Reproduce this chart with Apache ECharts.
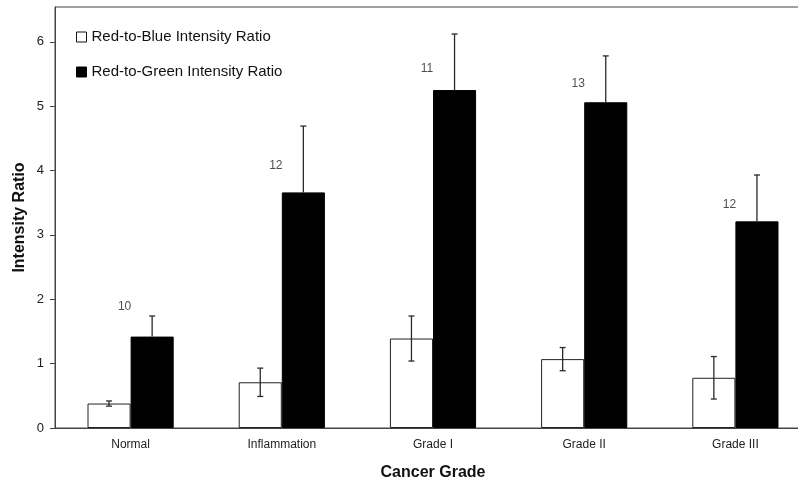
<!DOCTYPE html>
<html>
<head>
<meta charset="utf-8">
<script src="https://cdn.jsdelivr.net/npm/echarts@6/dist/echarts.min.js"></script>
<style>html,body{margin:0;padding:0;background:#fff}#c{width:798px;height:481px}</style>
</head>
<body>
<div id="c"></div>
<script>
var categories = ['Normal', 'Inflammation', 'Grade I', 'Grade II', 'Grade III'];
var redBlue = [0.38, 0.71, 1.39, 1.07, 0.78];
var redBlueErr = [0.04, 0.22, 0.35, 0.18, 0.33];
var redGreen = [1.42, 3.66, 5.25, 5.06, 3.21];
var redGreenErr = [0.32, 1.03, 0.87, 0.72, 0.72];
var sampleN = [10, 12, 11, 13, 12];
var sampleLabelY = [1.88, 4.07, 5.58, 5.35, 3.47];
var yTicks = [0, 1, 2, 3, 4, 5, 6];

var FONT = 'Liberation Sans, Arial, sans-serif';
var GAP = 0.43;

function errRender(side, upperOnly) {
  return function (params, api) {
    var idx = api.value(0);
    var v = api.value(1);
    var e = api.value(2);
    var band = api.size([1, 0])[0];
    var w = band * (1 - GAP) / 2;
    var c = api.coord([idx, v]);
    var x = c[0] + side * w / 2;
    var top = api.coord([idx, v + e])[1];
    var bot = upperOnly ? c[1] : api.coord([idx, v - e])[1];
    var cap = 3;
    var st = { stroke: '#2a2a2a', lineWidth: 1.3 };
    var kids = [
      { type: 'line', shape: { x1: x, y1: top, x2: x, y2: bot }, style: st },
      { type: 'line', shape: { x1: x - cap, y1: top, x2: x + cap, y2: top }, style: st }
    ];
    if (!upperOnly) {
      kids.push({ type: 'line', shape: { x1: x - cap, y1: bot, x2: x + cap, y2: bot }, style: st });
    }
    return { type: 'group', children: kids };
  };
}

var chart = echarts.init(document.getElementById('c'), null, { renderer: 'canvas' });
chart.setOption({
  animation: false,
  backgroundColor: '#fff',
  textStyle: { fontFamily: FONT },
  grid: { left: 55, top: 7, width: 756, height: 421, outerBoundsMode: 'none', containLabel: false,
          show: true, borderColor: '#444', borderWidth: 1, backgroundColor: 'transparent' },
  legend: {
    orient: 'vertical', left: 71, top: 24, itemWidth: 10, itemHeight: 10, itemGap: 19,
    icon: 'rect',
    textStyle: { fontSize: 15, color: '#111', fontFamily: FONT, lineHeight: 16 },
    data: [
      { name: 'Red-to-Blue Intensity Ratio', itemStyle: { color: '#fff', borderColor: '#111', borderWidth: 1 } },
      { name: 'Red-to-Green Intensity Ratio', itemStyle: { color: '#000', borderColor: '#000', borderWidth: 1 } }
    ]
  },
  xAxis: {
    type: 'category', data: categories,
    name: 'Cancer Grade', nameLocation: 'middle', nameGap: 37,
    nameTextStyle: { fontSize: 16, fontWeight: 'bold', color: '#111', fontFamily: FONT },
    axisLine: { lineStyle: { color: '#444', width: 1 } },
    axisTick: { show: false },
    axisLabel: { fontSize: 12, color: '#222', margin: 11, fontFamily: FONT },
    splitLine: { show: false }
  },
  yAxis: {
    type: 'value', min: 0, max: 6.54, interval: 1,
    name: 'Intensity Ratio', nameLocation: 'middle', nameGap: 27, nameRotate: 90,
    nameMoveOverlap: false,
    nameTextStyle: { fontSize: 16, fontWeight: 'bold', color: '#111', fontFamily: FONT },
    axisLine: { show: true, lineStyle: { color: '#444', width: 1 } },
    axisTick: { show: true, length: 5, lineStyle: { color: '#444' }, customValues: yTicks },
    axisLabel: { fontSize: 13, color: '#222', margin: 11, fontFamily: FONT, customValues: yTicks },
    splitLine: { show: false }
  },
  series: [
    {
      name: 'Red-to-Blue Intensity Ratio', type: 'bar', data: redBlue,
      barGap: '0%', barCategoryGap: (GAP * 100) + '%',
      itemStyle: { color: '#fff', borderColor: '#222', borderWidth: 1 }
    },
    {
      name: 'Red-to-Green Intensity Ratio', type: 'bar', data: redGreen,
      barGap: '0%', barCategoryGap: (GAP * 100) + '%',
      itemStyle: { color: '#000', borderColor: '#000', borderWidth: 1 }
    },
    {
      type: 'custom', renderItem: errRender(-1, false), z: 10,
      data: redBlue.map(function (v, i) { return [i, v, redBlueErr[i]]; })
    },
    {
      type: 'custom', renderItem: errRender(1, true), z: 10,
      data: redGreen.map(function (v, i) { return [i, v, redGreenErr[i]]; })
    },
    {
      type: 'scatter', symbolSize: 0, silent: true,
      data: sampleLabelY.map(function (v, i) { return [i, v]; }),
      label: {
        show: true, position: 'inside', offset: [-6, 0], fontSize: 12, color: '#222', fontFamily: FONT,
        formatter: function (p) { return String(sampleN[p.dataIndex]); }
      }
    }
  ]
});
</script>
</body>
</html>
